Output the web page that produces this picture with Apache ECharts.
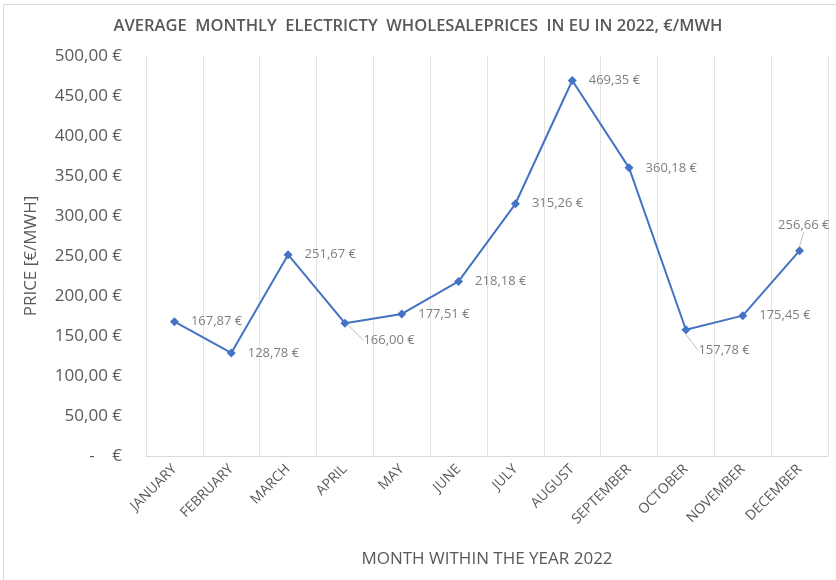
<!DOCTYPE html>
<html>
<head>
<meta charset="utf-8">
<script src="https://cdn.jsdelivr.net/npm/echarts@6/dist/echarts.min.js"></script>
<style>
  html, body { margin: 0; padding: 0; background: #fff; }
  #chart { width: 836px; height: 580px; }
</style>
</head>
<body>
<div id="chart"></div>
<script>
const months = ["JANUARY", "FEBRUARY", "MARCH", "APRIL", "MAY", "JUNE", "JULY",
  "AUGUST", "SEPTEMBER", "OCTOBER", "NOVEMBER", "DECEMBER"];
const prices = [167.87, 128.78, 251.67, 166.00, 177.51, 218.18, 315.26,
  469.35, 360.18, 157.78, 175.45, 256.66];

// labels that Excel moved away from the point (dx, dy in px)
const labelMoves = { 3: [2, 17], 9: [-4, 21], 11: [-38, -25] };

const grey = "#595959";
const font = "Open Sans";

function euro(v) {
  return v.toFixed(2).replace(".", ",") + " €";
}

const chart = echarts.init(document.getElementById("chart"));

chart.setOption({
  animation: false,
  textStyle: { fontFamily: font },
  graphic: [
    {
      type: "rect",
      shape: { x: 3.5, y: 4.5, width: 900, height: 700 },
      style: { fill: "none", stroke: "#d9d9d9", lineWidth: 1 },
      silent: true,
    },
  ],
  title: {
    text: "AVERAGE  MONTHLY  ELECTRICTY  WHOLESALEPRICES  IN EU IN 2022, €/MWH",
    left: "center",
    top: 13,
    textStyle: { color: grey, fontSize: 16.5, fontWeight: 600, fontFamily: font },
  },
  grid: { left: 146, right: 8, top: 56, bottom: 124 },
  xAxis: {
    type: "category",
    data: months,
    boundaryGap: true,
    name: "MONTH WITHIN THE YEAR 2022",
    nameLocation: "middle",
    nameGap: 95,
    nameTextStyle: { color: grey, fontSize: 17 },
    axisLine: { lineStyle: { color: "#d9d9d9" } },
    axisTick: { show: false },
    splitLine: { show: true, lineStyle: { color: "#e3e3e3" } },
    axisLabel: { rotate: 45, color: grey, fontSize: 14, margin: 11, interval: 0 },
  },
  yAxis: {
    type: "value",
    min: 0,
    max: 500,
    interval: 50,
    name: "PRICE [€/MWH]",
    nameLocation: "middle",
    nameGap: 106,
    nameTextStyle: { color: grey, fontSize: 17 },
    axisLine: { show: false },
    axisTick: { show: false },
    splitLine: { show: false },
    axisLabel: {
      color: grey,
      fontSize: 17,
      margin: 24,
      formatter: (v) => (v === 0 ? "-    €" : euro(v)),
    },
  },
  series: [
    {
      type: "line",
      data: prices.map((v, i) => ({
        value: v,
        labelLine: { show: i in labelMoves, lineStyle: { color: "#bfbfbf", width: 1 } },
      })),
      symbol: "diamond",
      symbolSize: 9,
      lineStyle: { color: "#4472c4", width: 2 },
      itemStyle: { color: "#4472c4" },
      label: {
        show: true,
        position: "right",
        distance: 12,
        color: "#7f7f7f",
        fontSize: 13,
        formatter: (p) => euro(p.value),
      },
      labelLayout: (p) => {
        const m = labelMoves[p.dataIndex];
        return m ? { dx: m[0], dy: m[1] } : {};
      },
    },
  ],
});

window.addEventListener("resize", () => chart.resize());
</script>
</body>
</html>
